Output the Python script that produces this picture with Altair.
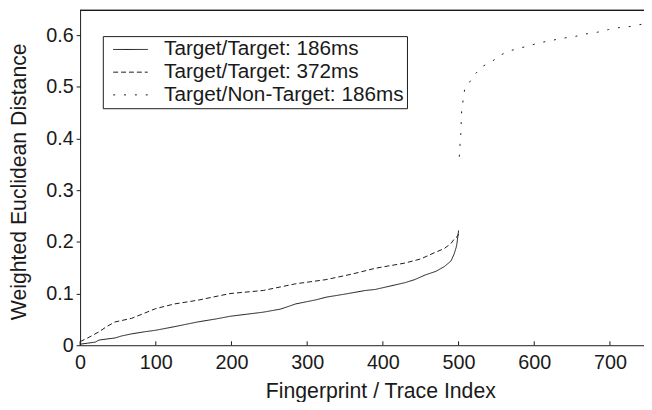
import altair as alt
import pandas as pd

series_names = ["Target/Target: 186ms", "Target/Target: 372ms", "Target/Non-Target: 186ms"]

tt186_x = [0, 10, 20, 25, 35, 46, 55, 68, 85, 100, 125, 155, 180, 198, 220, 242, 265, 285,
           312, 325, 350, 377, 390, 420, 429, 442, 456, 470, 481, 490, 494, 497, 498, 499, 500]
tt186_y = [0.002, 0.004, 0.006, 0.010, 0.012, 0.014, 0.018, 0.022, 0.026, 0.029, 0.036, 0.045,
           0.051, 0.056, 0.060, 0.064, 0.070, 0.080, 0.088, 0.093, 0.099, 0.106, 0.108, 0.118,
           0.121, 0.127, 0.136, 0.143, 0.152, 0.163, 0.176, 0.190, 0.198, 0.210, 0.222]

tt372_x = [0, 10, 25, 35, 46, 68, 85, 100, 125, 155, 198, 242, 285, 325, 360, 390, 429, 450,
           468, 481, 490, 494, 498, 500]
tt372_y = [0.007, 0.014, 0.026, 0.036, 0.045, 0.052, 0.062, 0.071, 0.080, 0.087, 0.100, 0.106,
           0.119, 0.127, 0.138, 0.149, 0.159, 0.167, 0.179, 0.187, 0.197, 0.205, 0.210, 0.215]

tn186_x = [501, 502, 503, 504, 506, 508, 514, 522, 532, 544, 556, 568, 581, 596, 609, 623, 637,
           655, 670, 684, 698, 713, 727, 741, 745]
tn186_y = [0.365, 0.389, 0.410, 0.452, 0.474, 0.495, 0.508, 0.525, 0.540, 0.549, 0.562, 0.570,
           0.575, 0.581, 0.586, 0.590, 0.594, 0.598, 0.603, 0.606, 0.611, 0.615, 0.617, 0.621,
           0.622]

x_ticks = [0, 100, 200, 300, 400, 500, 600, 700]
y_ticks = [0, 0.1, 0.2, 0.3, 0.4, 0.5, 0.6]

rows = []
for name, xs, ys in zip(series_names, [tt186_x, tt372_x, tn186_x], [tt186_y, tt372_y, tn186_y]):
    for i, (xv, yv) in enumerate(zip(xs, ys)):
        rows.append({"series": name, "idx": xv, "dist": yv, "order": i})
df = pd.DataFrame(rows)
ticks_df = pd.DataFrame({"idx": x_ticks})

INK = "#1a1a1a"
FONT = "Liberation Sans"

x_scale = alt.Scale(domain=[0, 745], nice=False, zero=False)
y_scale = alt.Scale(domain=[0, 0.648], nice=False)

x_axis = alt.Axis(
    title="Fingerprint / Trace Index", values=x_ticks, format="d", ticks=False,
    labelFontSize=20, labelPadding=8, titleFontSize=21.5, titleFontWeight="normal",
    titleX=304, titleY=53, titleBaseline="alphabetic", titleAlign="center",
    grid=False, domainColor=INK, labelColor=INK, titleColor=INK, labelFlush=False,
)
y_axis = alt.Axis(
    title="Weighted Euclidean Distance", values=y_ticks, format=".1~f",
    tickSize=4, tickColor=INK, labelFontSize=20, labelPadding=3,
    titleFontSize=21.5, titleFontWeight="normal", titleAngle=270,
    titleX=-55, titleY=173, titleBaseline="alphabetic", titleAlign="center",
    grid=False, domainColor=INK, labelColor=INK, titleColor=INK, labelFlush=False,
)

lines = alt.Chart(df).mark_line(strokeWidth=1, color=INK, clip=True).encode(
    x=alt.X("idx:Q", scale=x_scale, axis=x_axis),
    y=alt.Y("dist:Q", scale=y_scale, axis=y_axis),
    strokeDash=alt.StrokeDash(
        "series:N",
        scale=alt.Scale(domain=series_names, range=[[1, 0], [5, 3], [2, 9]]),
        legend=alt.Legend(
            title=None, orient="none", legendX=23, legendY=26,
            symbolType="stroke", symbolSize=1225, symbolStrokeWidth=1,
            symbolStrokeColor=INK, symbolOffset=7, clipHeight=21,
            labelFontSize=21, labelFont=FONT, labelColor=INK,
            strokeColor=INK, fillColor="white", padding=3, rowPadding=1,
            labelOffset=16, labelLimit=600,
        ),
    ),
    order="order:Q",
)

inner_ticks = alt.Chart(ticks_df).mark_rule(color=INK, strokeWidth=1).encode(
    x=alt.X("idx:Q", scale=x_scale, axis=x_axis),
    y=alt.value(339),
    y2=alt.value(335),
)

top_frame = alt.Chart(ticks_df).mark_rule(color=INK, strokeWidth=1).encode(
    y=alt.value(0),
)

chart = alt.layer(lines, inner_ticks, top_frame).properties(
    width=571, height=339,
    padding={"left": 73, "top": 0, "right": 0, "bottom": 55},
    autosize=alt.AutoSizeParams(type="none"),
).configure(font=FONT).configure_view(stroke="transparent")

chart.save("out.html", embed_options={"renderer": "svg", "actions": False})
